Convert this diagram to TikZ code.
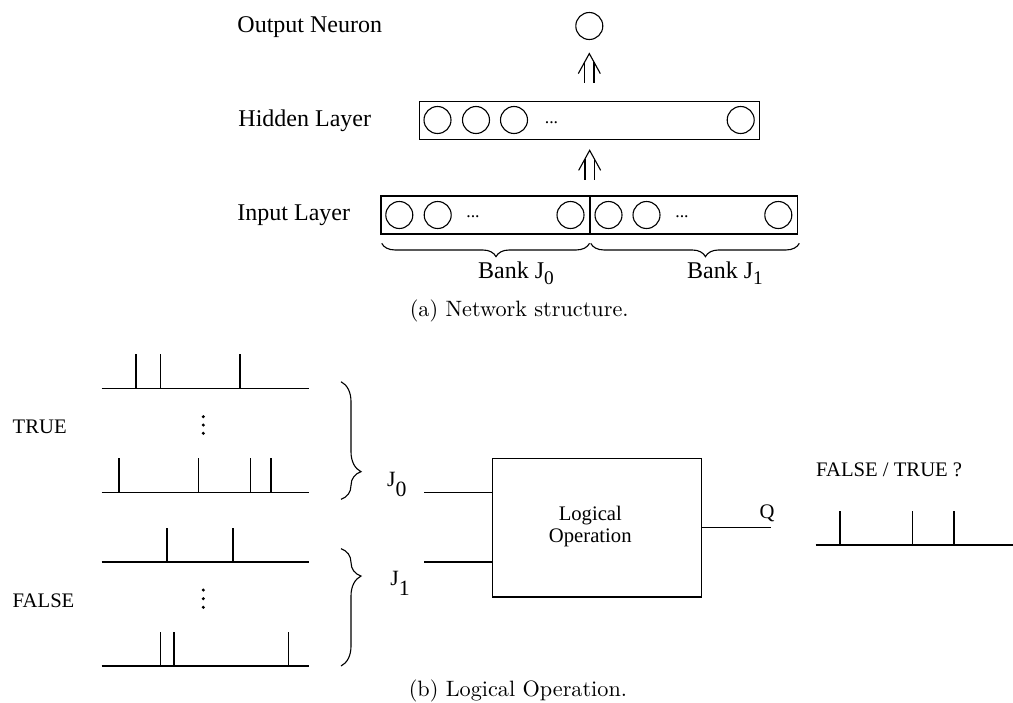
\documentclass[tikz,border=0pt]{standalone}
\usepackage{fontspec}
\newfontfamily\tnr{Liberation Serif}
\usetikzlibrary{fit,calc,decorations.pathreplacing}
\tikzset{
  neuron/.style={circle,draw,minimum size=12.15pt,inner sep=0pt,line width=0.5pt},
  box/.style={draw,inner sep=0pt,outer sep=0pt,line width=0.5pt},
  toplbl/.style={font=\tnr\fontsize{10.8}{13}\selectfont,inner sep=0pt},
  botlbl/.style={font=\tnr\fontsize{9.3}{10}\selectfont,inner sep=0pt},
  jlbl/.style={font=\tnr\fontsize{9.8}{11}\selectfont,inner sep=0pt},
  captxt/.style={font=\fontsize{10}{12}\selectfont,inner sep=0pt},
  dotslbl/.style={font=\tnr\fontsize{8}{9}\selectfont,inner sep=0pt},
  wire/.style={line width=0.5pt},
  spike/.style={line width=0.5pt},
  tbrace/.style={decorate,decoration={brace,amplitude=6pt,aspect=0.55,mirror},line width=0.5pt},
  sbrace/.style={decorate,decoration={brace,amplitude=9pt,aspect=#1},line width=0.5pt},
  uparr/.pic={
    \draw[wire] (-4.65,-8.8) -- (-4.65,12);
    \draw[wire] (4.65,-8.8) -- (4.65,12);
    \draw[wire,line join=miter] (-11,2.7) -- (0,-17.3) -- (11,2.7);
  }
}
\begin{document}
\begin{tikzpicture}[x=0.45pt,y=-0.45pt]
\useasboundingbox (0,0) rectangle (1013,702);

% ---------- (a) network structure ----------
\node[toplbl,anchor=base west] (lout) at (237,32.7) {Output Neuron};
\node[toplbl,anchor=base west] (lhid) at (238,126) {Hidden Layer};
\node[toplbl,anchor=base west] (linp) at (237,220.7) {Input Layer};

\node[neuron] (out) at (589.3,26) {};

\node[box,fit={(419.3,101.7) (759.3,139.3)}] (hid) {};
\node[neuron] (h1) at (437.5,120) {};
\node[neuron] (h2) at (476,120) {};
\node[neuron] (h3) at (514,120) {};
\node[dotslbl,anchor=base] (hd) at (551.5,123) {...};
\node[neuron] (h4) at (740.7,120) {};

\node[box,fit={(381,196) (590,234)}] (j0box) {};
\node[box,fit={(590,196) (797.3,234)}] (j1box) {};
\node[neuron] (a1) at (399.3,215) {};
\node[neuron] (a2) at (437.7,215) {};
\node[dotslbl,anchor=base] (ad) at (473,217.5) {...};
\node[neuron] (a3) at (570.5,215) {};
\node[neuron] (b1) at (608.5,215) {};
\node[neuron] (b2) at (646.5,215) {};
\node[dotslbl,anchor=base] (bd) at (682,217.5) {...};
\node[neuron] (b3) at (778.3,215) {};

\coordinate (m1) at ($(hid.north)!0.5!(out.south)$);
\pic at (m1) {uparr};
\coordinate (m2) at ($(j0box.north east)!0.5!(hid.south)$);
\pic at (m2) {uparr};

\draw[tbrace] (381.7,243.3) -- (589.5,243.3);
\draw[tbrace] (590.7,243.3) -- (799.3,243.3);
\node[toplbl,anchor=base west] (bank0) at (477.7,278.3) {Bank J\raisebox{-3pt}{\fontsize{8.7}{9}\selectfont 0}};
\node[toplbl,anchor=base west] (bank1) at (686.7,278.3) {Bank J\raisebox{-3pt}{\fontsize{8.7}{9}\selectfont 1}};

\node[captxt,anchor=base west] (capa) at (409.3,316) {(a) Network structure.};

% ---------- (b) logical operation ----------
\node[botlbl,anchor=base west] (ltrue) at (12.3,433.3) {TRUE};
\node[botlbl,anchor=base west] (lfalse) at (12.3,607.7) {FALSE};

% spike trains
\draw[spike] (101.7,388.3) -- (309.3,388.3);
\foreach \x in {136,160.3,240} \draw[spike] (\x,388.3) -- (\x,354.3);
\draw[spike] (101.7,492.7) -- (309.3,492.7);
\foreach \x in {119,198.7,250.3,271} \draw[spike] (\x,492.7) -- (\x,458.3);
\draw[spike] (101.7,562) -- (309.3,562);
\foreach \x in {167,233} \draw[spike] (\x,562) -- (\x,527.7);
\draw[spike] (101.7,666) -- (309.3,666);
\foreach \x in {160.3,174,288.7} \draw[spike] (\x,666) -- (\x,631.7);

\foreach \y in {416.7,425,433.3,590,598.7,607.3} \fill (203.3,\y) circle (1.7);

\draw[sbrace=0.765] (341,381.7) -- (341,499.3);
\draw[sbrace=0.233] (341,548.7) -- (341,666);

\node[jlbl,anchor=base west] (lj0) at (386.7,486.7) {J\raisebox{-4.5pt}{0}};
\node[jlbl,anchor=base west] (lj1) at (390,585) {J\raisebox{-4.5pt}{1}};

\node[box,fit={(492.9,458.3) (701.5,597)}] (logic) {};
\node[botlbl,align=center] (ltext) at (590.3,526.2) {Logical\\Operation};

\coordinate (j0in) at (424,492.7);
\coordinate (j1in) at (424,562);
\draw[wire] (j0in) -- (j0in -| logic.west);
\draw[wire] (j1in) -- (j1in -| logic.west);

\coordinate (qend) at (770.5,527.65);
\draw[wire] (logic.east |- qend) -- (qend);
\node[botlbl,anchor=base] (lq) at (767,518.3) {Q};

\node[botlbl,anchor=base west] (lres) at (815.7,476.7) {FALSE / TRUE ?};
\draw[spike] (815.7,545) -- (1013,545);
\foreach \x in {840,912.7,954} \draw[spike] (\x,545) -- (\x,510.7);

\node[captxt,anchor=base west] (capb) at (408.3,696) {(b) Logical Operation.};
\end{tikzpicture}
\end{document}
